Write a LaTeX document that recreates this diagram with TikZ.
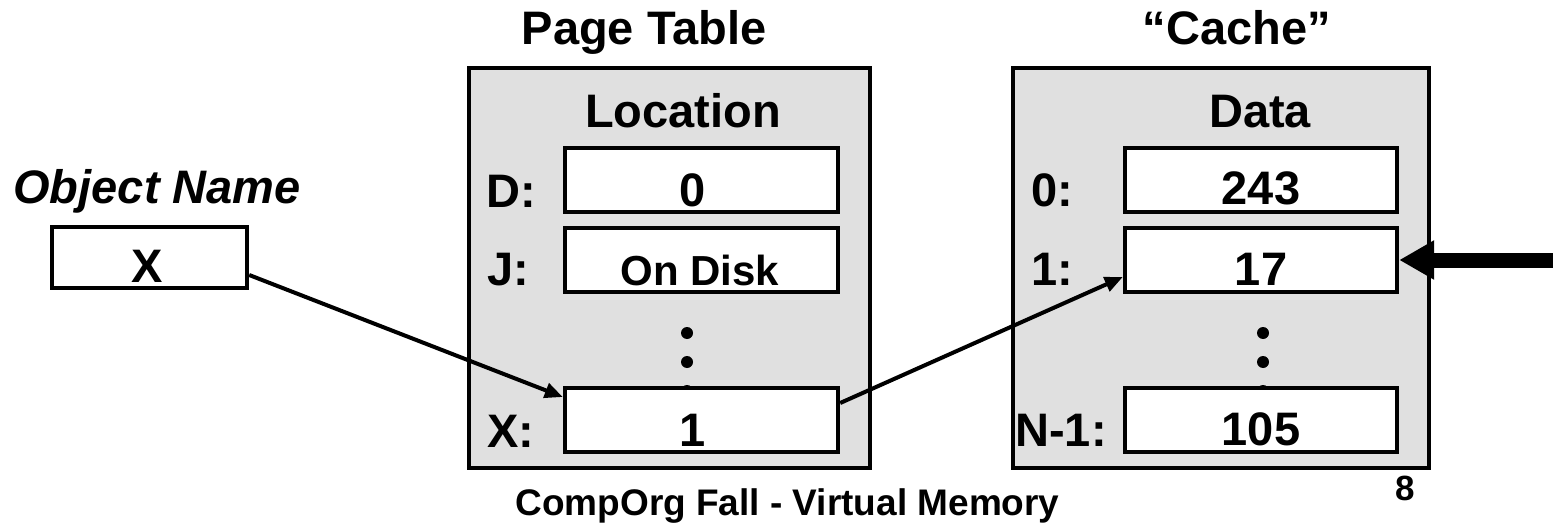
\documentclass[tikz,border=0pt]{standalone}
\usepackage{fontspec}
\setmainfont{Liberation Sans}
\usetikzlibrary{arrows.meta}
\definecolor{panelgray}{HTML}{E0E0E0}
\begin{document}
\begin{tikzpicture}[x=0.5pt,y=-0.5pt,
  big/.style={font=\fontsize{23.5pt}{28pt}\selectfont\bfseries, inner sep=0pt},
  txt/.style={big, anchor=base},
  lbl/.style={big, anchor=base west},
  panel/.style={draw=black, line width=2.2pt, fill=panelgray, inner sep=0pt, minimum height=200pt},
  cell/.style={draw=black, line width=2.2pt, fill=white, inner sep=0pt, minimum height=32pt},
  link/.style={line width=2pt, -{Triangle[length=9pt,width=7.5pt]}},
  dot/.style={circle, fill=black, inner sep=0pt, minimum size=6pt}
]
\useasboundingbox (0,0) rectangle (1553,524);

% titles
\node[txt] (ttlpt) at (644,45) {Page Table};
\node[txt] (ttlc) at (1237,45) {“Cache”};

% grey panels
\node[panel, minimum width=200.5pt] (pt) at (669.5,268) {};
\node[panel, minimum width=208pt] (cache) at (1221,268) {};

\node[txt] (hloc) at (683,127) {Location};
\node[txt] (hdata) at (1260,127) {Data};

% ellipsis dots (drawn under the last cells)
\foreach \y [count=\i] in {333,362,391} {
  \node[dot] (pd\i) at (687,\y) {};
  \node[dot] (cd\i) at (1263,\y) {};
}

% page table cells
\node[cell, minimum width=136.5pt] (pD) at (701.5,180) {};
\node[cell, minimum width=136.5pt] (pJ) at (701.5,260) {};
\node[cell, minimum width=136.5pt] (pX) at (701.5,420) {};
\node[txt] (vD) at (693,206) {0};
\node[txt, font=\fontsize{21pt}{25pt}\selectfont\bfseries] (vJ) at (700,285) {On Disk};
\node[txt] (vX) at (693,446) {1};
\node[lbl] (lD) at (486,207) {D:};
\node[lbl] (lJ) at (487,285) {J:};
\node[lbl] (lX) at (487,447) {X:};

% cache cells
\node[cell, minimum width=136pt] (c0) at (1261,180) {};
\node[cell, minimum width=136pt] (c1) at (1261,260) {};
\node[cell, minimum width=136pt] (cN) at (1261,420) {};
\node[txt] (v0) at (1261,205) {243};
\node[txt] (v1) at (1261,285) {17};
\node[txt] (vN) at (1261,445) {105};
\node[lbl] (l0) at (1031,206) {0:};
\node[lbl] (l1) at (1031,285) {1:};
\node[lbl] (lN) at (1015,446) {N-1:};

% object name
\node[lbl, font=\fontsize{23.5pt}{28pt}\selectfont\bfseries\itshape] (oname) at (13,203) {Object Name};
\node[cell, minimum width=97.5pt, minimum height=30.5pt] (obj) at (149.5,257.5) {};
\node[txt] (objx) at (147,282) {X};

% connectors
\draw[link] ([yshift=-8.75pt]obj.east) -- ([yshift=11.5pt]pX.west);
\draw[link] ([yshift=8.5pt]pX.east) -- ([yshift=-8.5pt]c1.west);
\coordinate (feed) at (1553,260);
\draw[line width=7.5pt, -{Triangle[length=17.5pt,width=18.5pt]}] (feed) -- (c1.east);

% footer
\node[anchor=base west, inner sep=0pt, font=\fontsize{18.5pt}{22pt}\selectfont\bfseries] (foot) at (515,515) {CompOrg Fall - Virtual Memory};
\node[anchor=base, inner sep=0pt, font=\fontsize{17.5pt}{21pt}\selectfont\bfseries] (pg) at (1405,500) {8};
\end{tikzpicture}
\end{document}
